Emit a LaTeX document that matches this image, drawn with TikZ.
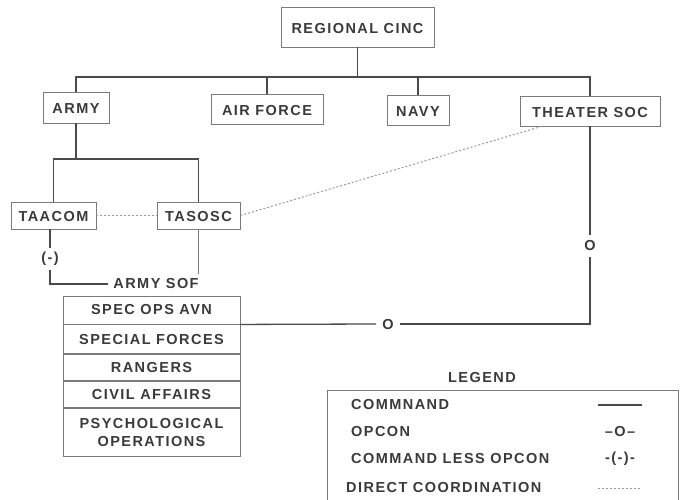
\documentclass[tikz,border=0pt]{standalone}
\usepackage{fontspec}
\setmainfont{Liberation Sans}[LetterSpace=10]
\usetikzlibrary{positioning}
\definecolor{txt}{HTML}{3A3A3A}
\definecolor{ln}{HTML}{4A4A4A}
\definecolor{bx}{HTML}{7A7A7A}
\definecolor{dt}{HTML}{9A9A9A}
\begin{document}
\begin{tikzpicture}[x=1pt,y=-1pt,
  every node/.style={text=txt,font=\fontsize{14.5}{18}\selectfont\bfseries},
  org/.style={draw=bx,line width=0.9pt,inner sep=0pt,text height=12.5pt,text depth=0pt},
  cmd/.style={draw=ln,line width=1.6pt},
  thinln/.style={draw=bx,line width=0.8pt},
  coord/.style={draw=dt,line width=1pt,dash pattern=on 2pt off 2pt},
  row/.style={draw=bx,line width=0.9pt,inner sep=0pt,minimum width=177pt,align=center},
  lbl/.style={inner sep=1pt},
  gap/.style={inner sep=6pt}]
\clip (0,0) rectangle (681,500);
% nodes
\node[org,minimum width=153pt,minimum height=40pt] (cinc) at (357.5,27) {REGIONAL CINC};
\node[org,minimum width=66pt,minimum height=31pt] (army) at (76,107.5) {ARMY};
\node[org,minimum width=112pt,minimum height=30pt] (af) at (267,109) {AIR FORCE};
\node[org,minimum width=62pt,minimum height=30pt] (navy) at (418,110) {NAVY};
\node[org,minimum width=140pt,minimum height=30pt] (tsoc) at (590,111) {THEATER SOC};
\node[org,minimum width=85pt,minimum height=27pt] (taacom) at (53.5,215.5) {TAACOM};
\node[org,minimum width=83pt,minimum height=27pt] (tasosc) at (198.5,215.5) {TASOSC};
\node[lbl,inner ysep=4pt] (cl) at (50,259) {(-)};
\node[lbl,inner sep=5pt] (sof) at (156,284) {ARMY SOF};
\node[row,minimum height=28pt] (r1) at (151.5,310) {SPEC OPS AVN};
\node[row,minimum height=29pt,below=0pt of r1] (r2) {SPECIAL FORCES};
\node[row,minimum height=26pt,below=0pt of r2] (r3) {RANGERS};
\node[row,minimum height=26pt,below=0pt of r3] (r4) {CIVIL AFFAIRS};
\node[row,minimum height=48pt,below=0pt of r4] (r5) {PSYCHOLOGICAL\\OPERATIONS};
\node[gap] (o1) at (388,325) {O};
\node[gap] (o2) at (590,246) {O};
% coordinates
\coordinate (bus) at (357.5,77);
\coordinate (abus) at (76,159);
\coordinate (ocorner) at (590,324);
\coordinate (tsocdot) at (543,126);
% command lines
\draw[cmd] (cinc.south) -- (cinc.south |- bus);
\draw[cmd] (army.north) -- (army.north |- bus) -- (tsoc.north |- bus) -- (tsoc.north);
\draw[cmd] (af.north) -- (af.north |- bus);
\draw[cmd] (navy.north) -- (navy.north |- bus);
\draw[cmd] (army.south) -- (abus);
\draw[cmd] (taacom.north) -- (taacom.north |- abus) -- (tasosc.north |- abus) -- (tasosc.north);
% command less opcon
\draw[cmd] (taacom.south -| cl) -- (cl.north);
\draw[cmd] (cl.south) |- (sof.west);
\draw[thinln] (tasosc.south) -- (tasosc.south |- sof.north);
% opcon
\draw[cmd,line width=1.3pt] (r1.south east) -- (o1.west |- ocorner);
\draw[cmd,line width=1.3pt] (o1.east |- ocorner) -- (ocorner) -- (o2.south);
\draw[cmd,line width=1.3pt] (o2.north) -- (tsoc.south);
% direct coordination
\draw[coord] (taacom.east) -- (tasosc.west);
\draw[coord] (tasosc.east) -- (tsocdot);
% legend
\node[lbl] (leg) at (482,378) {LEGEND};
\draw[draw=bx,line width=0.9pt] (327,520) -- (327,390) -- (678,390) -- (678,520);
\node[lbl,anchor=west] (l1) at (350,405) {COMMNAND};
\node[lbl,anchor=west] (l2) at (350,432) {OPCON};
\node[lbl,anchor=west] (l3) at (350,459) {COMMAND LESS OPCON};
\node[lbl,anchor=west] (l4) at (345,488) {DIRECT COORDINATION};
\coordinate (s1a) at (598,405); \coordinate (s1b) at (642,405);
\draw[cmd,line width=1.3pt] (s1a) -- (s1b);
\node[lbl] (s2) at (620,432) {--O--};
\node[lbl] (s3) at (620,459) {-(-)-};
\coordinate (s4a) at (598,488); \coordinate (s4b) at (642,488);
\draw[coord,line width=0.7pt] (s4a) -- (s4b);
\end{tikzpicture}
\end{document}
